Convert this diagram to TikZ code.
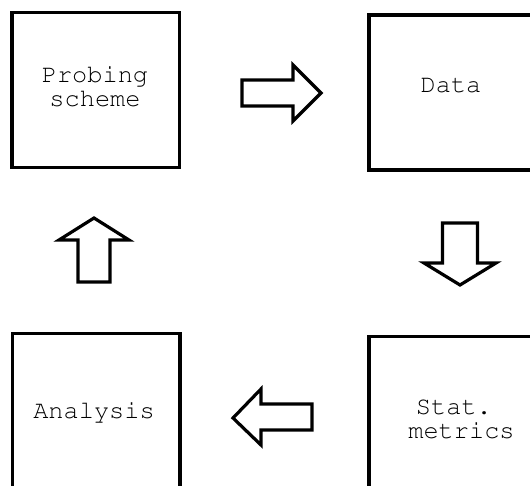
\documentclass[tikz,border=0pt]{standalone}
\usepackage[T1,TU]{fontenc}
\tikzset{
  stage/.style={draw=black, line width=3.3pt, minimum width=167.5pt, minimum height=155pt, inner sep=0pt},
  label/.style={inner sep=0pt, align=center,
    font=\fontencoding{T1}\fontfamily{pcr}\fontseries{m}\fontshape{n}\fontsize{25.3}{24}\selectfont},
  blockarrow/.style={draw=black, line width=3.2pt, line join=miter, fill=white}
}
\begin{document}
\begin{tikzpicture}[x=1pt, y=-1pt]
  \useasboundingbox (0,0) rectangle (530,486);
  \clip (0,0) rectangle (530,486);

  % the four stages of the cycle
  \node[stage] (probe) at (95.75,90) {};
  \node[stage] (data) at (452.75,92.5) {};
  \node[stage, minimum height=162pt] (analysis) at (96.25,414.7) {};
  \node[stage, minimum height=162pt] (stat) at (452.75,417.7) {};

  % stage titles (base anchor sits on the last line)
  \node[label, anchor=base] (probetxt) at (95,107) {Probing\\scheme};
  \node[label, anchor=base] (datatxt) at (451,93) {Data};
  \node[label, anchor=base] (stattxt) at (461.5,438) {Stat.\hphantom{x}\\metrics};
  \node[label, anchor=base] (analysistxt) at (94,418) {Analysis};

  % hollow block arrows between the stages
  \draw[blockarrow] (242,80) -- (293,80) -- (293,65) -- (321,93) -- (293,121) -- (293,106) -- (242,106) -- cycle;
  \draw[blockarrow] (442.5,223) -- (477.5,223) -- (477.5,263) -- (496,263) -- (460,285) -- (424,263) -- (442.5,263) -- cycle;
  \draw[blockarrow] (312,404) -- (261,404) -- (261,389) -- (233,418) -- (261,445) -- (261,430) -- (312,430) -- cycle;
  \draw[blockarrow] (78,282) -- (78,240) -- (59,240) -- (94,218) -- (129,240) -- (110,240) -- (110,282) -- cycle;
\end{tikzpicture}
\end{document}
